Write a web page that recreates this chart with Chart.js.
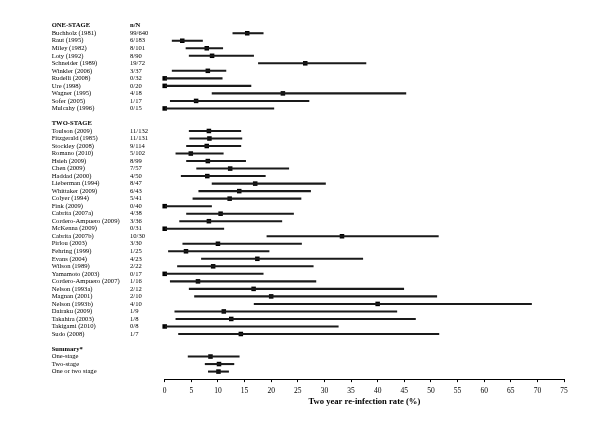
<!DOCTYPE html>
<html>
<head>
<meta charset="utf-8">
<script src="https://cdn.jsdelivr.net/npm/chart.js@4/dist/chart.umd.min.js"></script>
<style>
html,body{margin:0;padding:0;background:#fff;}
#wrap{width:600px;height:424px;position:relative;}
</style>
</head>
<body>
<div id="wrap"><canvas id="c" width="600" height="424"></canvas></div>
<script>
// Row labels (blank string = empty row); header rows listed in headerRows
const studies = [
  "ONE-STAGE",
  "Buchholz (1981)","Raut (1995)","Miley (1982)","Loty (1992)","Schneider (1989)","Winkler (2006)",
  "Rudelli (2008)","Ure (1998)","Wagner (1995)","Sofer (2005)","Mulcahy (1996)",
  "",
  "TWO-STAGE",
  "Toulson (2009)","Fitzgerald (1985)","Stockley (2008)","Romano (2010)","Hsieh (2009)","Chen (2009)",
  "Haddad (2000)","Lieberman (1994)","Whittaker (2009)","Colyer (1994)","Fink (2009)","Cabrita (2007a)",
  "Cordero-Ampuero (2009)","McKenna (2009)","Cabrita (2007b)","Pirlou (2003)","Fehring (1999)",
  "Evans (2004)","Wilson (1989)","Yamamoto (2003)","Cordero-Ampuero (2007)","Nelson (1993a)",
  "Magnan (2001)","Nelson (1993b)","Dairaku (2009)","Takahira (2003)","Takigami (2010)","Sudo (2008)",
  "",
  "Summary*",
  "One-stage","Two-stage","One or two stage"
];
const headerRows = [0, 13, 43];
const counts = [
  "n/N",
  "99/640","6/183","8/101","8/90","19/72","3/37","0/32","0/20","4/18","1/17","0/15",
  "",
  "",
  "11/132","11/131","9/114","5/102","8/99","7/57","4/50","8/47","6/43","5/41","0/40","4/38",
  "3/36","0/31","10/30","3/30","1/25","4/23","2/22","0/17","1/16","2/12","2/10","4/10",
  "1/9","1/8","0/8","1/7",
  "",
  "",
  "","",""
];
// Point estimates (%)
const estimate = [
  null,
  15.5, 3.3, 7.9, 8.9, 26.4, 8.1, 0, 0, 22.2, 5.9, 0,
  null,
  null,
  8.3, 8.4, 7.9, 4.9, 8.1, 12.3, 8.0, 17.0, 14.0, 12.2, 0, 10.5,
  8.3, 0, 33.3, 10.0, 4.0, 17.4, 9.1, 0, 6.25, 16.7, 20.0, 40.0,
  11.1, 12.5, 0, 14.3,
  null,
  null,
  8.6, 10.2, 10.1
];
// Lower 95% limits (%)
const lower = [
  null,
  12.8, 1.4, 4.0, 4.6, 17.6, 1.4, 0, 0, 8.9, 1.05, 0,
  null,
  null,
  4.6, 4.7, 4.1, 2.1, 4.1, 6.0, 3.1, 8.9, 6.4, 5.3, 0, 4.1,
  2.8, 0, 19.2, 3.4, 0.7, 6.9, 2.4, 0, 1.05, 4.6, 5.6, 16.8,
  1.9, 2.1, 0, 2.6,
  null,
  null,
  4.4, 7.6, 8.2
];
// Upper 95% limits (%)
const upper = [
  null,
  18.5, 7.1, 10.9, 16.7, 37.8, 11.5, 10.8, 16.2, 45.3, 27.1, 20.5,
  null,
  null,
  14.3, 14.5, 14.3, 11.0, 15.2, 23.3, 18.9, 30.2, 27.4, 25.6, 8.8, 24.2,
  22.0, 11.1, 51.4, 25.7, 19.6, 37.2, 27.9, 18.5, 28.4, 44.9, 51.1, 68.9,
  43.6, 47.1, 32.6, 51.5,
  null,
  null,
  14.0, 13.0, 12.0
];
const xTicks = [0,5,10,15,20,25,30,35,40,45,50,55,60,65,70,75];

const ciData = [];
const ptData = [];
studies.forEach((s, i) => {
  if (lower[i] !== null && upper[i] !== null) ciData.push({x: [lower[i], upper[i]], y: i});
  if (estimate[i] !== null) ptData.push({x: estimate[i], y: i});
});

const SERIF = '"Liberation Serif", "Times New Roman", serif';

const textPlugin = {
  id: 'rowText',
  afterDraw(chart) {
    const ctx = chart.ctx;
    const ys = chart.scales.y;
    ctx.save();
    ctx.fillStyle = '#000';
    ctx.textBaseline = 'middle';
    ctx.textAlign = 'left';
    studies.forEach((s, i) => {
      const y = ys.getPixelForValue(i);
      const bold = headerRows.includes(i);
      ctx.font = (bold ? 'bold ' : '') + '6.6px ' + SERIF;
      if (s) ctx.fillText(s, 51.7, y);
      if (counts[i]) {
        ctx.font = (i === 0 ? 'bold ' : '') + '6.6px ' + SERIF;
        ctx.fillText(counts[i], 130, y);
      }
    });
    ctx.restore();
  }
};

new Chart(document.getElementById('c'), {
  type: 'bar',
  data: {
    datasets: [
      {
        type: 'bar',
        data: ciData,
        backgroundColor: '#1a1a1a',
        borderWidth: 0,
        barThickness: 1.4,
        clip: false
      },
      {
        type: 'scatter',
        data: ptData,
        pointStyle: 'rect',
        pointRadius: 3.2,
        backgroundColor: '#000',
        borderColor: '#000',
        borderWidth: 0,
        clip: false
      }
    ]
  },
  options: {
    indexAxis: 'y',
    responsive: false,
    animation: false,
    events: [],
    layout: { padding: { left: 164.7, right: 36, top: 18.2, bottom: 0 } },
    plugins: { legend: { display: false }, tooltip: { enabled: false } },
    scales: {
      y: {
        type: 'linear',
        reverse: true,
        min: -1,
        max: 47,
        offset: false,
        grace: 0,
        display: false
      },
      x: {
        type: 'linear',
        position: 'bottom',
        min: 0,
        max: 75,
        offset: false,
        afterBuildTicks: (s) => { s.ticks = xTicks.map(v => ({value: v})); },
        afterFit: (s) => { s.height = 44.9; },
        border: { display: true, color: '#000', width: 1 },
        grid: { display: true, drawOnChartArea: false, drawTicks: true, tickLength: 3, color: '#000' },
        ticks: { color: '#000', font: { family: SERIF, size: 7.5 }, padding: 4, maxRotation: 0, autoSkip: false },
        title: {
          display: true,
          text: 'Two year re-infection rate (%)',
          color: '#000',
          font: { family: SERIF, size: 8.6, weight: 'bold' },
          padding: { top: 1, bottom: 17 }
        }
      }
    }
  },
  plugins: [textPlugin]
});
</script>
</body>
</html>
